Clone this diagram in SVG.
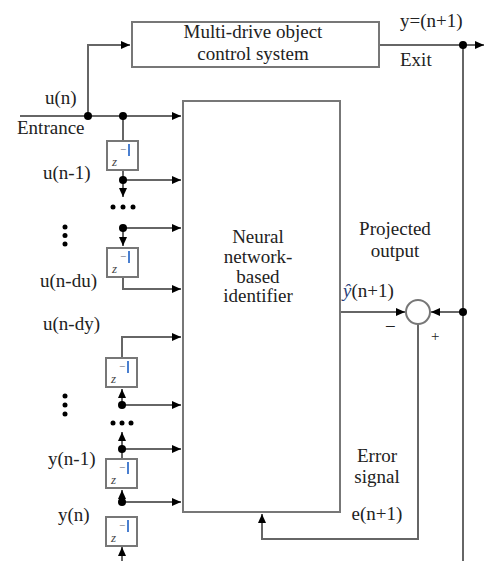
<svg xmlns="http://www.w3.org/2000/svg" width="485" height="561" viewBox="0 0 485 561">
<style>
.box{fill:#fff;stroke:#777;stroke-width:2}
.ln{fill:none;stroke:#666;stroke-width:2}
.dot{fill:#000}
.t{font-family:"Liberation Serif","Times New Roman",serif;font-size:19px;fill:#222}
.m{text-anchor:middle}
.z{font-family:"Liberation Serif",serif;font-style:italic;font-size:13px;fill:#444}
.e{font-family:"Liberation Serif",serif;font-size:11px;fill:#667}
</style>
<defs>
<marker id="ar" markerUnits="userSpaceOnUse" markerWidth="10" markerHeight="10" refX="9" refY="4" orient="auto">
<path d="M0,0 L9,4 L0,8 z" fill="#000"/>
</marker>
<g id="zd">
<rect class="box" x="0" y="0" width="31" height="29"/>
<text class="e" x="13" y="12">−</text>
<rect x="21" y="3" width="2" height="12" fill="#4a7fd0"/>
<text class="z" x="5" y="25">z</text>
</g>
</defs>

<g id="connectors">
<path class="ln" d="M20,116 H181" marker-end="url(#ar)"/>
<path class="ln" d="M88,116 V45 H130" marker-end="url(#ar)"/>
<path class="ln" d="M379,45 H484" marker-end="url(#ar)"/>
<path class="ln" d="M463,45 V561"/>
<path class="ln" d="M463,312 H431" marker-end="url(#ar)"/>
<path class="ln" d="M340,312 H405" marker-end="url(#ar)"/>
<path class="ln" d="M418,324 V539 H262 V514" marker-end="url(#ar)"/>
<path class="ln" d="M123,116 V141"/>
<path class="ln" d="M123,170 V180"/>
<path class="ln" d="M123,180 H181" marker-end="url(#ar)"/>
<path class="ln" d="M123,180 V197" marker-end="url(#ar)"/>
<path class="ln" d="M123,228 H181" marker-end="url(#ar)"/>
<path class="ln" d="M123,228 V246" marker-end="url(#ar)"/>
<path class="ln" d="M123,277 V289 H181" marker-end="url(#ar)"/>
<path class="ln" d="M122,358 V337 H181" marker-end="url(#ar)"/>
<path class="ln" d="M122,405 V389" marker-end="url(#ar)"/>
<path class="ln" d="M122,405 H181" marker-end="url(#ar)"/>
<path class="ln" d="M122,449 V432" marker-end="url(#ar)"/>
<path class="ln" d="M122,449 H181" marker-end="url(#ar)"/>
<path class="ln" d="M122,449 V459"/>
<path class="ln" d="M122,502 V490" marker-end="url(#ar)"/>
<path class="ln" d="M122,502 H181" marker-end="url(#ar)"/>
<path class="ln" d="M122,561 V547" marker-end="url(#ar)"/>
</g>

<g id="junctions">
<circle class="dot" cx="88" cy="116" r="4"/>
<circle class="dot" cx="123" cy="116" r="4"/>
<circle class="dot" cx="463" cy="45" r="4"/>
<circle class="dot" cx="463" cy="312" r="4"/>
<circle class="dot" cx="123" cy="180" r="4"/>
<circle class="dot" cx="123" cy="228" r="4"/>
<circle class="dot" cx="122" cy="405" r="4"/>
<circle class="dot" cx="122" cy="449" r="4"/>
<circle class="dot" cx="122" cy="502" r="4"/>
</g>

<g id="ellipses">
<circle class="dot" cx="113" cy="207" r="2.5"/><circle class="dot" cx="123" cy="207" r="2.5"/><circle class="dot" cx="133" cy="207" r="2.5"/>
<circle class="dot" cx="65" cy="227" r="2.5"/><circle class="dot" cx="65" cy="235.5" r="2.5"/><circle class="dot" cx="65" cy="244" r="2.5"/>
<circle class="dot" cx="113" cy="423" r="2.5"/><circle class="dot" cx="122" cy="423" r="2.5"/><circle class="dot" cx="131" cy="423" r="2.5"/>
<circle class="dot" cx="65" cy="396" r="2.5"/><circle class="dot" cx="65" cy="405" r="2.5"/><circle class="dot" cx="65" cy="414" r="2.5"/>
</g>

<g id="plant">
<rect class="box" x="132" y="22" width="247" height="45"/>
<text class="t m" x="253" y="38">Multi-drive object</text>
<text class="t m" x="253" y="60">control system</text>
</g>

<g id="identifier">
<rect class="box" x="183" y="101" width="157" height="411"/>
<text class="t m" x="258" y="243">Neural</text>
<text class="t m" x="258" y="263">network-</text>
<text class="t m" x="258" y="283">based</text>
<text class="t m" x="258" y="302">identifier</text>
</g>

<g id="summer">
<circle cx="418" cy="312" r="12" fill="#fff" stroke="#777" stroke-width="2"/>
<text class="t" x="385" y="333">−</text>
<text class="t" x="431" y="341" style="font-size:15px">+</text>
</g>

<g id="delay1"><use href="#zd" x="107" y="141"/></g>
<g id="delay2"><use href="#zd" x="107" y="248"/></g>
<g id="delay3"><use href="#zd" x="106" y="358"/></g>
<g id="delay4"><use href="#zd" x="106" y="459"/></g>
<g id="delay5"><use href="#zd" x="106" y="517"/></g>

<g id="labels">
<text class="t" x="400" y="27">y=(n+1)</text>
<text class="t" x="400" y="66">Exit</text>
<text class="t" x="45" y="104">u(n)</text>
<text class="t" x="17" y="134">Entrance</text>
<text class="t" x="43" y="179">u(n-1)</text>
<text class="t" x="40" y="287">u(n-du)</text>
<text class="t" x="43" y="330">u(n-dy)</text>
<text class="t" x="48" y="465">y(n-1)</text>
<text class="t" x="58" y="521">y(n)</text>
<text class="t m" x="395" y="235">Projected</text>
<text class="t m" x="395" y="257">output</text>
<text class="t" x="343" y="297"><tspan style="font-style:italic;fill:#2b3f7a">ŷ</tspan>(n+1)</text>
<text class="t m" x="377" y="462">Error</text>
<text class="t m" x="377" y="483">signal</text>
<text class="t m" x="377" y="520">e(n+1)</text>
</g>
</svg>
